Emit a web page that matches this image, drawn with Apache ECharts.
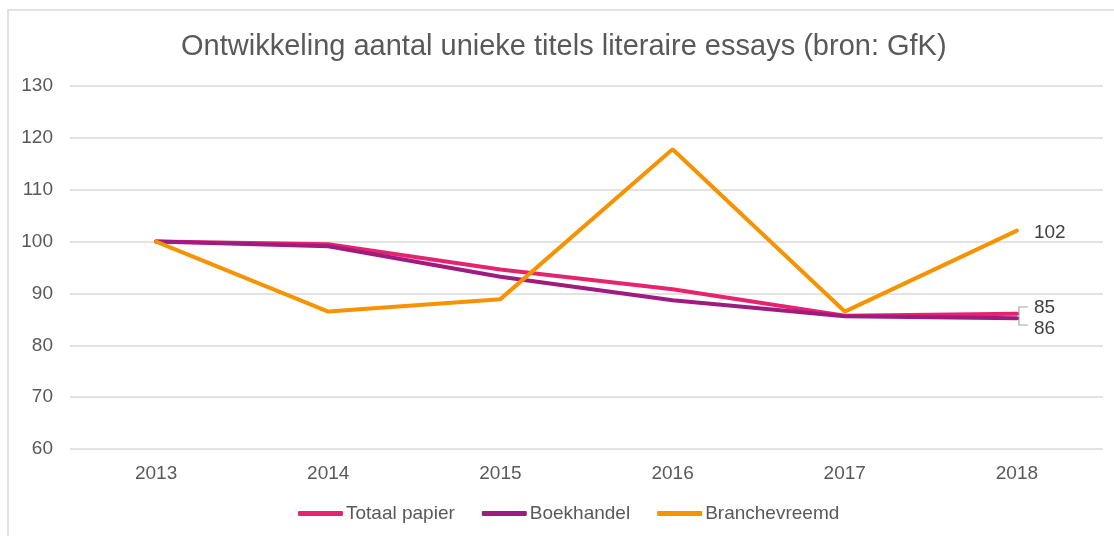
<!DOCTYPE html>
<html>
<head>
<meta charset="utf-8">
<script src="https://cdn.jsdelivr.net/npm/echarts@6/dist/echarts.min.js"></script>
<style>html,body{margin:0;padding:0;background:#fff}#c{width:1114px;height:536px}</style>
</head>
<body>
<div id="c"></div>
<script>
const titleText = 'Ontwikkeling aantal unieke titels literaire essays (bron: GfK)';
const years = ['2013', '2014', '2015', '2016', '2017', '2018'];
const totaalPapier = [100, 99.5, 94.6, 90.8, 85.7, 86.1];
const boekhandel = [100, 99.1, 93.2, 88.7, 85.6, 85.2];
const branchevreemd = [100, 86.5, 88.9, 117.8, 86.5, 102.1];
const endLabels = { totaal: '86', boek: '85', branche: '102' };
const yTicks = { min: 60, max: 130, interval: 10 };

const FONT = '"Liberation Sans", Arial, sans-serif';
const chart = echarts.init(document.getElementById('c'));

function endLabel(text, dy) {
  return {
    show: true, formatter: () => text, distance: 17, offset: [0, dy],
    color: '#404040', fontSize: 19, fontFamily: FONT
  };
}

chart.setOption({
  animation: false,
  title: {
    text: titleText, left: 176, top: 27,
    textStyle: { color: '#595959', fontSize: 29, fontWeight: 'normal', fontFamily: FONT }
  },
  legend: {
    top: 499, left: 293, itemWidth: 45, itemHeight: 5, itemGap: 27,
    icon: 'roundRect',
    textStyle: { color: '#595959', fontSize: 19, fontFamily: FONT, padding: [0, 0, 0, -2] },
    data: ['Totaal papier', 'Boekhandel', 'Branchevreemd']
  },
  grid: { left: 70, right: 11, top: 86, bottom: 87 },
  xAxis: {
    type: 'category', data: years, boundaryGap: true,
    axisLine: { show: false }, axisTick: { show: false },
    axisLabel: { color: '#595959', fontSize: 19, fontFamily: FONT, margin: 15 }
  },
  yAxis: {
    type: 'value', min: yTicks.min, max: yTicks.max, interval: yTicks.interval,
    axisLine: { show: false }, axisTick: { show: false },
    axisLabel: { color: '#595959', fontSize: 19, fontFamily: FONT, margin: 17 },
    splitLine: { lineStyle: { color: '#d9d9d9', width: 1.5 } }
  },
  series: [
    { name: 'Totaal papier', type: 'line', data: totaalPapier, endLabel: endLabel(endLabels.totaal, 15),
      symbol: 'none', lineStyle: { color: '#E6246E', width: 4, cap: 'round' }, itemStyle: { color: '#E6246E' } },
    { name: 'Boekhandel', type: 'line', data: boekhandel, endLabel: endLabel(endLabels.boek, -11),
      symbol: 'none', lineStyle: { color: '#9E1B80', width: 4, cap: 'round' }, itemStyle: { color: '#9E1B80' } },
    { name: 'Branchevreemd', type: 'line', data: branchevreemd, endLabel: endLabel(endLabels.branche, 2),
      symbol: 'none', lineStyle: { color: '#F59300', width: 4, cap: 'round' }, itemStyle: { color: '#F59300' } }
  ]
});

// outer border + bracket for the overlapping end labels
const n = years.length - 1;
const pA = chart.convertToPixel({ seriesIndex: 1 }, [n, boekhandel[n]]);
const pB = chart.convertToPixel({ seriesIndex: 0 }, [n, totaalPapier[n]]);
const bx = pA[0] + 2;
const mid = (pA[1] + pB[1]) / 2;
const yT = mid - 9;
const yB = mid + 9;
chart.setOption({
  graphic: [
    { type: 'polyline', shape: { points: [[8, 536], [8, 10], [1114, 10]] },
      style: { stroke: '#d9d9d9', lineWidth: 1.5, fill: null } },
    { type: 'polyline', shape: { points: [[bx + 9, yT], [bx, yT], [bx, yB], [bx + 9, yB]] },
      style: { stroke: '#a6a6a6', lineWidth: 1.2, fill: null } }
  ]
});
</script>
</body>
</html>
